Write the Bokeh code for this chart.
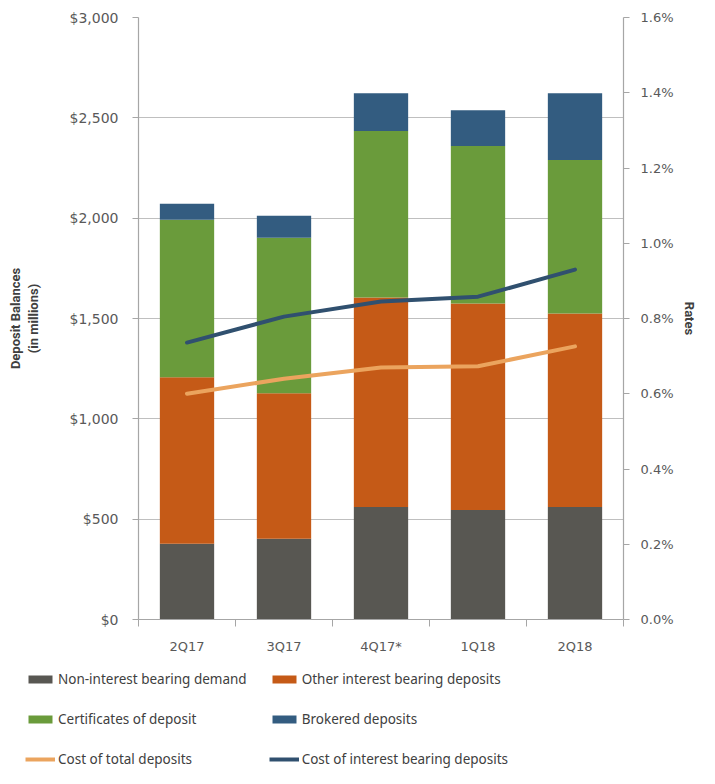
from bokeh.plotting import figure
from bokeh.layouts import column, row
from bokeh.models import (Range1d, LinearAxis, FixedTicker, Legend, LegendItem,
                          ColumnDataSource, NumeralTickFormatter, PrintfTickFormatter)
from bokeh.embed import file_html
from bokeh.resources import INLINE

quarters = ["2Q17", "3Q17", "4Q17*", "1Q18", "2Q18"]
non_interest = [377, 402, 561, 546, 561]
other_interest = [830, 726, 1044, 1029, 964]
certificates = [785, 775, 829, 785, 765]
brokered = [80, 109, 189, 178, 333]
cost_total = [0.60, 0.64, 0.67, 0.673, 0.726]
cost_interest = [0.736, 0.805, 0.845, 0.858, 0.93]
bar_labels = ["Non-interest bearing demand", "Other interest bearing deposits",
              "Certificates of deposit", "Brokered deposits"]
line_labels = ["Cost of total deposits", "Cost of interest bearing deposits"]
left_ticks = [0, 500, 1000, 1500, 2000, 2500, 3000]
right_ticks = [0.0, 0.2, 0.4, 0.6, 0.8, 1.0, 1.2, 1.4, 1.6]

bar_colors = ["#585752", "#C55A17", "#6A9B3B", "#335C80"]
line_colors = ["#EBA45E", "#30506F"]
axis_gray = "#A6A6A6"
text_gray = "#595959"

xs = list(range(len(quarters)))
source = ColumnDataSource(dict(x=xs, non=non_interest, oth=other_interest,
                               cd=certificates, brk=brokered,
                               ct=cost_total, ci=cost_interest))

p = figure(width=699, height=656, x_range=Range1d(-0.5, len(quarters) - 0.5),
           y_range=Range1d(0, 3000), output_backend="svg", toolbar_location=None,
           min_border_left=138, min_border_right=74, min_border_top=17,
           min_border_bottom=34, y_axis_location=None)
p.outline_line_color = None
p.extra_y_ranges = {"rate": Range1d(0, 1.6)}

bars = p.vbar_stack(["non", "oth", "cd", "brk"], x="x", width=0.56, color=bar_colors,
                    line_color=None, source=source)
l1 = p.line("x", "ct", source=source, y_range_name="rate", line_width=4,
            line_color=line_colors[0], line_cap="round", line_join="round")
l2 = p.line("x", "ci", source=source, y_range_name="rate", line_width=4,
            line_color=line_colors[1], line_cap="round", line_join="round")

# grid
p.xgrid.visible = False
p.ygrid.ticker = FixedTicker(ticks=left_ticks)
p.ygrid.grid_line_color = "#BFBFBF"
p.ygrid.grid_line_width = 1.2
p.ygrid.level = "underlay"

# x axis
xa = p.xaxis[0]
xa.ticker = FixedTicker(ticks=xs, minor_ticks=[i - 0.5 for i in range(len(quarters) + 1)])
xa.major_label_overrides = {i: q for i, q in enumerate(quarters)}
xa.major_tick_out = 0
xa.major_tick_in = 0
xa.minor_tick_out = 7
xa.minor_tick_in = 0
xa.minor_tick_line_color = axis_gray
xa.axis_line_color = axis_gray
xa.major_label_text_font = "DejaVu Sans"
xa.major_label_text_font_size = "13px"
xa.major_label_text_color = text_gray
xa.major_label_standoff = 12

# left axis
la = LinearAxis(ticker=FixedTicker(ticks=left_ticks),
                formatter=NumeralTickFormatter(format="$0,0"))
la.axis_label = "Deposit Balances\n(in millions)"
p.add_layout(la, "left")

# right axis
ra = LinearAxis(y_range_name="rate", ticker=FixedTicker(ticks=right_ticks),
                formatter=PrintfTickFormatter(format="%.1f%%"))
ra.axis_label = "Rates"
p.add_layout(ra, "right")

for ax in (la, ra):
    ax.axis_line_color = axis_gray
    ax.axis_line_width = 1.2
    ax.major_tick_line_color = axis_gray
    ax.major_tick_out = 6
    ax.major_tick_in = 0
    ax.minor_tick_line_color = None
    ax.major_label_text_font = "DejaVu Sans"
    ax.major_label_text_font_size = "14px"
    ax.major_label_text_color = text_gray
    ax.axis_label_text_font = "Roboto"
    ax.axis_label_text_font_style = "bold"
    ax.axis_label_text_font_size = "13px"
    ax.axis_label_text_color = "#404040"
ra.major_label_text_font_size = "13px"
la.major_label_standoff = 14
ra.major_label_standoff = 11
la.axis_label_standoff = 26
ra.axis_label_standoff = 5

# legend in its own strip below the chart (invisible proxy renderers carry the styles)
lg = figure(width=699, height=112, x_range=Range1d(-0.5, len(quarters) - 0.5),
            y_range=Range1d(0, 3000), output_backend="svg", toolbar_location=None,
            min_border=0, x_axis_location=None, y_axis_location=None)
lg.outline_line_color = None
lg.grid.visible = False
proxies = [lg.vbar(x="x", top=col, width=0.5, color=c, line_color=None,
                   source=source, visible=False)
           for col, c in zip(["non", "oth", "cd", "brk"], bar_colors)]
lproxies = [lg.line(x="x", y=col, line_width=4, line_color=c, source=source, visible=False)
            for col, c in zip(["ct", "ci"], line_colors)]
items = [
    LegendItem(label=bar_labels[0], renderers=[proxies[0]]),
    LegendItem(label=bar_labels[1], renderers=[proxies[1]]),
    LegendItem(label=bar_labels[2], renderers=[proxies[2]]),
    LegendItem(label=bar_labels[3], renderers=[proxies[3]]),
    LegendItem(label=line_labels[0], renderers=[lproxies[0]]),
    LegendItem(label=line_labels[1], renderers=[lproxies[1]]),
]
legend = Legend(items=items, location=(25, 0), orientation="horizontal", ncols=2,
                label_text_font="Noto Sans", label_text_font_size="13.5px",
                label_text_color="#404040", glyph_width=30, glyph_height=10,
                label_height=16, spacing=22, padding=0, margin=0,
                label_standoff=3, border_line_color=None,
                background_fill_alpha=0)
lg.add_layout(legend, "center")

layout = column(p, row(lg), spacing=0)
open("out.html", "w").write(file_html(layout, INLINE))
